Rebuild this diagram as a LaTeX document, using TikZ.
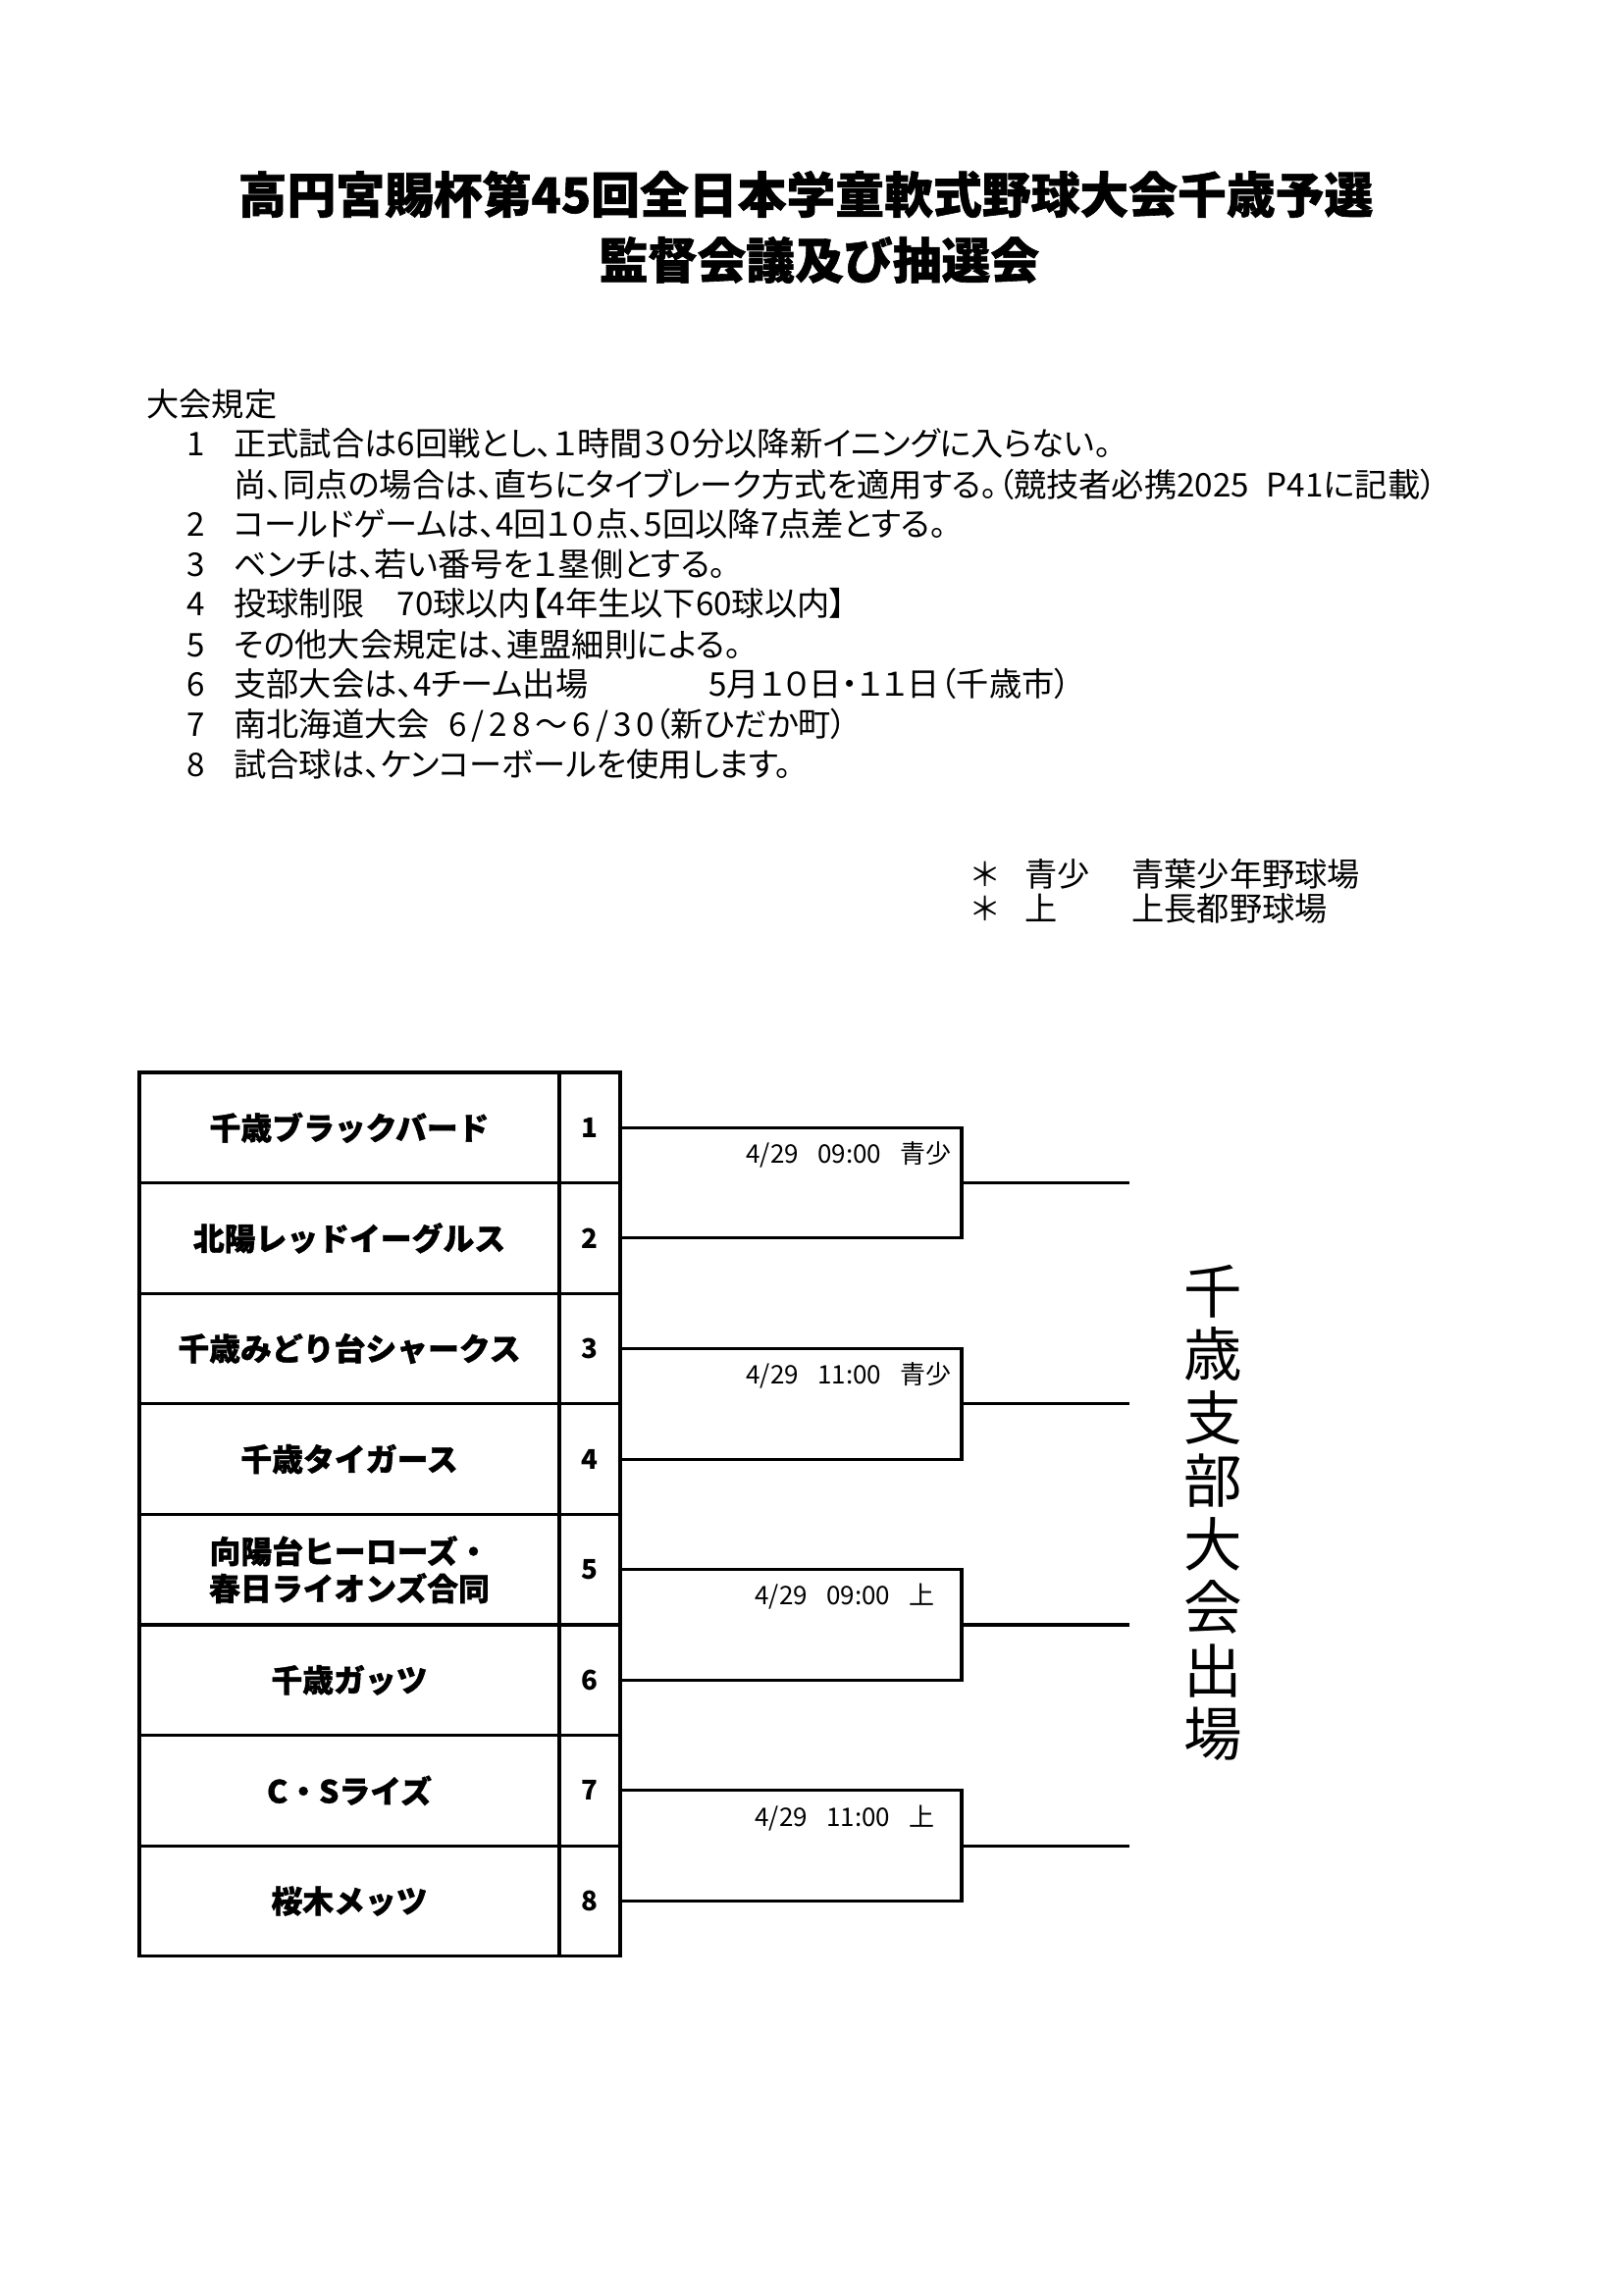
\documentclass[tikz,border=0pt]{standalone}
\usepackage{fontspec}
\setmainfont{Noto Sans CJK JP}
\newfontfamily\propjp{Noto Sans CJK JP}[RawFeature=+palt]
\newfontfamily\heavyjp{Noto Sans CJK JP}[BoldFeatures={FakeBold=1.2}]
\newcommand{\pxu}{0.127mm}

\begin{document}
\begin{tikzpicture}[x=0.127mm, y=-0.127mm,
  title/.style={inner sep=0pt, font=\heavyjp\bfseries\fontsize{18}{22}\selectfont},
  rule/.style={anchor=west, inner sep=0pt, font=\propjp\fontsize{12}{14}\selectfont,
    text height=10.5pt, text depth=1.5pt},
  rulenum/.style={rule, anchor=east},
  venue/.style={anchor=west, inner sep=0pt, font=\fontsize{12}{14}\selectfont,
    text height=10.5pt, text depth=1.5pt},
  team/.style={draw, line width=1.1pt, minimum width=428*\pxu, minimum height=112.6*\pxu,
    inner sep=0pt, align=center, font=\heavyjp\bfseries\fontsize{11.5}{13.7}\selectfont},
  seed/.style={draw, line width=1.1pt, minimum width=62*\pxu, minimum height=112.6*\pxu,
    inner sep=0pt, font=\bfseries\fontsize{10}{11}\selectfont},
  bracket/.style={line width=1.1pt},
  matchinfo/.style={inner sep=0pt, font=\fontsize{9.4}{11}\selectfont}]

\fill[white] (0,0) rectangle (1654,2338);
\useasboundingbox (0,0) rectangle (1654,2338);

% ── Título ────────────────────────────────────────────────────
\node[title] (titleA) at (821,198) {高円宮賜杯第45回全日本学童軟式野球大会千歳予選};
\node[title] (titleB) at (835,265) {監督会議及び抽選会};

% ── 大会規定 ──────────────────────────────────────────────────
% renglones cada ~41px, números alineados a la derecha en x=209
\node[rule] (rhead) at (149,412) {大会規定};

\node[rulenum] (r1n) at (209,452) {1};
\node[rule]    (r1)  at (238,452) {正式試合は6回戦とし、１時間３０分以降新イニングに入らない。};
\node[rule]    (r1b) at (238,494) {尚、同点の場合は、直ちにタイブレーク方式を適用する。（競技者必携2025\hspace{6.5pt}P41に記載）};
\node[rulenum] (r2n) at (209,534) {2};
\node[rule]    (r2)  at (238,534) {コールドゲームは、4回１０点、5回以降7点差とする。};
\node[rulenum] (r3n) at (209,575) {3};
\node[rule]    (r3)  at (238,575) {ベンチは、若い番号を１塁側とする。};
\node[rulenum] (r4n) at (209,615) {4};
\node[rule]    (r4)  at (238,615) {投球制限　70球以内【4年生以下60球以内】};
\node[rulenum] (r5n) at (209,657) {5};
\node[rule]    (r5)  at (238,657) {その他大会規定は、連盟細則による。};
\node[rulenum] (r6n) at (209,697) {6};
\node[rule]    (r6)  at (238,697) {支部大会は、4チーム出場};
\node[rule]    (r6b) at (722,697) {5月１０日・１１日（千歳市）};
\node[rulenum] (r7n) at (209,738) {7};
\node[rule]    (r7)  at (238,738) {南北海道大会\hspace{7pt}{\addfontfeature{LetterSpace=15}6/28～6/30}（新ひだか町）};
\node[rulenum] (r8n) at (209,779) {8};
\node[rule]    (r8)  at (238,779) {試合球は、ケンコーボールを使用します。};

% ──球場 ──────────────────────────────────────────────────────
\node[venue, anchor=center] (star1) at (1004,891) {＊};
\node[venue] (abbr1) at (1044,891) {青少};
\node[venue] (park1) at (1153,891) {青葉少年野球場};
\node[venue, anchor=center] (star2) at (1004,926) {＊};
\node[venue] (abbr2) at (1044,926) {上};
\node[venue] (park2) at (1153,926) {上長都野球場};

% ── Tabla de equipos ──────────────────────────────────────────
% filas de 112.6px desde y=1093; nombre 142–570, número 570–632
\node[team] (team1) at (356,1149.3) {千歳ブラックバード};
\node[seed] (seed1) at (601,1149.3) {1};
\node[team] (team2) at (356,1261.9) {北陽レッドイーグルス};
\node[seed] (seed2) at (601,1261.9) {2};
\node[team] (team3) at (356,1374.5) {千歳みどり台シャークス};
\node[seed] (seed3) at (601,1374.5) {3};
\node[team] (team4) at (356,1487.1) {千歳タイガース};
\node[seed] (seed4) at (601,1487.1) {4};
\node[team] (team5) at (356,1599.7) {向陽台ヒーローズ・\\春日ライオンズ合同};
\node[seed] (seed5) at (601,1599.7) {5};
\node[team] (team6) at (356,1712.3) {千歳ガッツ};
\node[seed] (seed6) at (601,1712.3) {6};
\node[team] (team7) at (356,1824.9) {C・Sライズ};
\node[seed] (seed7) at (601,1824.9) {7};
\node[team] (team8) at (356,1937.5) {桜木メッツ};
\node[seed] (seed8) at (601,1937.5) {8};

% ── Llaves ────────────────────────────────────────────────────
\coordinate (m1) at (980,1205.6);  \coordinate (w1) at (1151,1205.6);
\coordinate (m2) at (980,1430.8);  \coordinate (w2) at (1151,1430.8);
\coordinate (m3) at (980,1656.0);  \coordinate (w3) at (1151,1656.0);
\coordinate (m4) at (980,1881.2);  \coordinate (w4) at (1151,1881.2);

\draw[bracket] (seed1.east) -| (m1) |- (seed2.east);
\draw[bracket] (seed3.east) -| (m2) |- (seed4.east);
\draw[bracket] (seed5.east) -| (m3) |- (seed6.east);
\draw[bracket] (seed7.east) -| (m4) |- (seed8.east);
\draw[bracket] (m1) -- (w1);
\draw[bracket] (m2) -- (w2);
\draw[bracket] (m3) -- (w3);
\draw[bracket] (m4) -- (w4);

\node[matchinfo] (info1) at (865,1177) {4/29\hspace{7pt}09:00\hspace{7pt}青少};
\node[matchinfo] (info2) at (865,1402) {4/29\hspace{7pt}11:00\hspace{7pt}青少};
\node[matchinfo] (info3) at (861,1627) {4/29\hspace{7pt}09:00\hspace{7pt}上};
\node[matchinfo] (info4) at (861,1853) {4/29\hspace{7pt}11:00\hspace{7pt}上};

% ── Texto vertical ────────────────────────────────────────────
\node[inner sep=0pt, align=center, font=\fontsize{21.5}{23.3}\selectfont] (branch)
  at (1236,1542) {千\\歳\\支\\部\\大\\会\\出\\場};

\end{tikzpicture}
\end{document}
